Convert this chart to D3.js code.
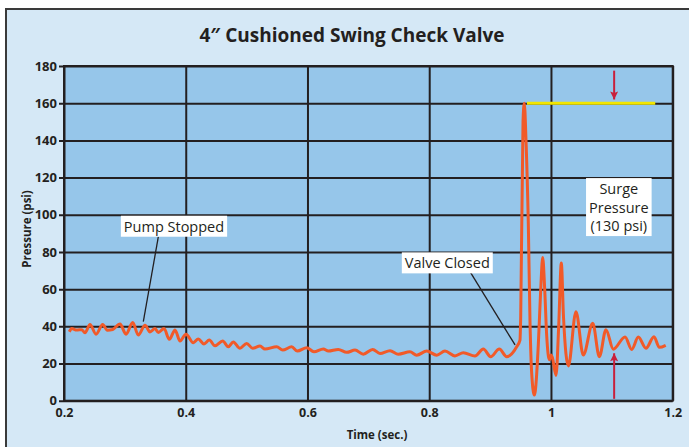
<!DOCTYPE html>
<meta charset="utf-8">
<script src="https://d3js.org/d3.v7.min.js"></script>
<style>
  body { margin: 0; background: #fff; }
  text { font-family: "Open Sans", sans-serif; fill: #231f20; }
</style>
<body>
<div id="vis"></div>
<script>
// pressure trace
var times = [0.2087, 0.2127, 0.2209, 0.2290, 0.2345, 0.2427, 0.2526, 0.2636, 0.2711, 0.2800,
  0.2920, 0.3019, 0.3129, 0.3221, 0.3331, 0.3413, 0.3495, 0.3549, 0.3643, 0.3730,
  0.3824, 0.3906, 0.4004, 0.4124, 0.4206, 0.4300, 0.4387, 0.4481, 0.4607, 0.4699,
  0.4781, 0.4891, 0.5001, 0.5100, 0.5220, 0.5302, 0.5494, 0.5593, 0.5741, 0.5833,
  0.5987, 0.6107, 0.6260, 0.6342, 0.6506, 0.6644, 0.6781, 0.6917, 0.7071, 0.7191,
  0.7356, 0.7492, 0.7684, 0.7794, 0.7959, 0.8123, 0.8259, 0.8423, 0.8560, 0.8752,
  0.8889, 0.9010, 0.9151, 0.9273, 0.9437, 0.9491, 0.9503, 0.9541, 0.9562, 0.9590,
  0.9628, 0.9656, 0.9683, 0.9727, 0.9792, 0.9832, 0.9864, 0.9897, 0.9930, 0.9973,
  1.0001, 1.0025, 1.0083, 1.0127, 1.0170, 1.0206, 1.0286, 1.0411, 1.0531, 1.0686,
  1.0795, 1.0904, 1.1024, 1.1217, 1.1327, 1.1435, 1.1561, 1.1692, 1.1780, 1.1885];
var pressures = [37.1, 38.8, 38.0, 38.2, 36.5, 41.0, 35.8, 41.0, 37.9, 38.3,
  41.2, 35.8, 42.0, 35.3, 40.6, 37.0, 38.8, 36.7, 38.8, 33.0,
  38.0, 32.1, 35.8, 31.2, 33.2, 30.5, 32.6, 29.5, 32.1, 29.0,
  31.6, 28.2, 30.8, 28.2, 29.4, 27.8, 29.0, 27.2, 29.0, 26.7,
  28.5, 26.3, 27.8, 26.7, 27.6, 26.0, 27.2, 25.0, 27.6, 25.4,
  26.9, 25.0, 26.3, 24.5, 26.7, 24.5, 26.7, 24.1, 25.8, 24.0,
  27.8, 23.7, 27.8, 23.7, 29.0, 32.6, 45, 150, 160, 140,
  95, 42, 15, 3, 30, 60, 77, 60, 35, 22,
  24.6, 23, 13.5, 40, 74, 45, 18.7, 47.9, 24.6, 41.6,
  23.7, 38.2, 27.7, 34.3, 27.6, 34.2, 28.2, 34.4, 28.7, 29.8];

var xTicks = [0.2, 0.4, 0.6, 0.8, 1, 1.2];
var yTicks = [0, 20, 40, 60, 80, 100, 120, 140, 160, 180];

// surge marker: peak level and the span of the yellow line
var surgeLevel = 160;
var surgeSpan = [0.9605, 1.1713];

var W = 689, H = 447;
var pLeft = 64, pRight = 672.7, pTop = 66, pBottom = 400.7;

var svg = d3.select("#vis").append("svg")
  .attr("width", W).attr("height", H);

// outer panel
svg.append("rect")
  .attr("x", 6).attr("y", 9).attr("width", W + 10).attr("height", H + 10)
  .attr("fill", "#d5e8f6").attr("stroke", "#3a3a3a").attr("stroke-width", 2);

svg.append("text")
  .attr("x", 352).attr("y", 42)
  .attr("text-anchor", "middle")
  .attr("font-size", "19px").attr("font-weight", "bold")
  .text("4\u2033 Cushioned Swing Check Valve");

var x = d3.scaleLinear().domain([0.2, 1.2]).range([pLeft, pRight]);
var y = d3.scaleLinear().domain([0, 180]).range([pBottom, pTop]);

svg.append("rect")
  .attr("x", pLeft).attr("y", pTop)
  .attr("width", pRight - pLeft).attr("height", pBottom - pTop)
  .attr("fill", "#96c6ea");

// y grid + labels
var gy = svg.append("g")
  .attr("transform", "translate(" + pLeft + ",0)")
  .call(d3.axisLeft(y).tickValues(yTicks)
    .tickSizeInner(-(pRight - pLeft)).tickSizeOuter(0).tickPadding(7));
gy.select(".domain").remove();
gy.selectAll(".tick line").attr("x1", -5).attr("stroke", "#231f20").attr("stroke-width", 2);
gy.selectAll(".tick text").attr("font-size", "13px").attr("font-weight", "bold")
  .attr("font-family", "Open Sans").attr("fill", "#231f20");

// x grid + labels
var gx = svg.append("g")
  .attr("transform", "translate(0," + pBottom + ")")
  .call(d3.axisBottom(x).tickValues(xTicks).tickFormat(function(d){ return String(d) })
    .tickSizeInner(-(pBottom - pTop)).tickSizeOuter(0).tickPadding(7));
gx.select(".domain").remove();
gx.selectAll(".tick line").attr("stroke", "#231f20").attr("stroke-width", 2);
gx.selectAll(".tick text").attr("font-size", "12.5px").attr("font-weight", "bold")
  .attr("font-family", "Open Sans").attr("fill", "#231f20");

svg.append("rect")
  .attr("x", pLeft).attr("y", pTop)
  .attr("width", pRight - pLeft).attr("height", pBottom - pTop)
  .attr("fill", "none").attr("stroke", "#231f20").attr("stroke-width", 2);

// axis titles
svg.append("text")
  .attr("x", 377).attr("y", 439)
  .attr("text-anchor", "middle")
  .attr("font-size", "11.5px").attr("font-weight", "bold")
  .text("Time (sec.)");
svg.append("text")
  .attr("transform", "translate(31,229) rotate(-90)")
  .attr("text-anchor", "middle")
  .attr("font-size", "11.5px").attr("font-weight", "bold")
  .text("Pressure (psi)");

// surge level line
svg.append("line")
  .attr("x1", x(surgeSpan[0])).attr("x2", x(surgeSpan[1]))
  .attr("y1", y(surgeLevel)).attr("y2", y(surgeLevel))
  .attr("stroke", "#f2e600").attr("stroke-width", 3);

// pressure trace
var pts = times.map(function(t, i){ return [t, pressures[i]] });
var line = d3.line()
  .x(function(d){ return x(d[0]) })
  .y(function(d){ return y(d[1]) })
  .curve(d3.curveMonotoneX);
svg.append("path")
  .datum(pts)
  .attr("d", line)
  .attr("fill", "none")
  .attr("stroke", "#f15a29")
  .attr("stroke-width", 3)
  .attr("stroke-linejoin", "round");

// red arrows marking the surge
var defs = svg.append("defs");
defs.append("marker")
  .attr("id", "head")
  .attr("viewBox", "0 0 10 10")
  .attr("refX", 10).attr("refY", 5)
  .attr("markerWidth", 5.5).attr("markerHeight", 4)
  .attr("markerUnits", "strokeWidth")
  .attr("orient", "auto")
  .append("path").attr("d", "M0,0L10,5L0,10L2,5Z").attr("fill", "#c8203c");

function arrow(t, p0, p1) {
  svg.append("line")
    .attr("x1", x(t)).attr("x2", x(t))
    .attr("y1", y(p0)).attr("y2", y(p1))
    .attr("stroke", "#c8203c").attr("stroke-width", 2)
    .attr("marker-end", "url(#head)");
}
arrow(1.1038, 177.5, 162);
arrow(1.1038, 1, 25.5);

// callouts
function callout(lines, cx, cy, fromT, fromP, toT, toP) {
  if (toT !== null) {
    svg.append("line")
      .attr("x1", x(fromT)).attr("y1", y(fromP))
      .attr("x2", x(toT)).attr("y2", y(toP))
      .attr("stroke", "#231f20").attr("stroke-width", 1.3);
  }
  var g = svg.append("g");
  var lh = 18.5;
  var y0 = y(cy) - (lines.length - 1) * lh / 2;
  var box = g.append("rect").attr("fill", "#fff");
  g.selectAll("text").data(lines).enter().append("text")
    .attr("x", x(cx)).attr("y", function(d, i){ return y0 + i * lh })
    .attr("dy", "0.35em")
    .attr("text-anchor", "middle")
    .attr("font-size", "14.5px")
    .text(function(d){ return d });
  var bb = g.node().getBBox();
  box.attr("x", bb.x - 3).attr("y", bb.y - 1)
    .attr("width", bb.width + 6).attr("height", bb.height + 2);
}
callout(["Pump Stopped"], 0.3807, 93.6, 0.355, 88.2, 0.3303, 42.5);
callout(["Valve Closed"], 0.8297, 73.9, 0.867, 69.4, 0.941, 30);
callout(["Surge", "Pressure", "(130 psi)"], 1.1115, 103.9, 0, 0, null, 0);
</script>
